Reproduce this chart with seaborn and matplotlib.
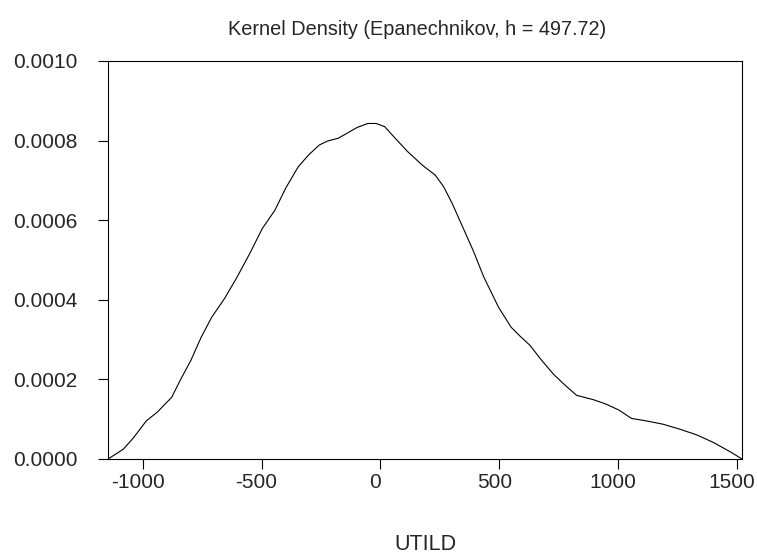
import matplotlib
matplotlib.use("Agg")
import matplotlib.pyplot as plt
import matplotlib.transforms as mtransforms
import seaborn as sns
import pandas as pd

# density curve
utild = [-1146, -1082, -1038, -985, -940, -878, -843, -798, -754, -710,
         -656, -603, -550, -497, -444, -399, -346, -302, -257, -222,
         -177, -142, -98, -53, -18, 18, 62, 115, 177, 231,
         266, 302, 346, 390, 435, 497, 550, 585, 630, 674,
         728, 772, 825, 896, 949, 1003, 1056, 1118, 1189, 1260,
         1331, 1402, 1473, 1521]
density = [0.0, 0.0000244, 0.0000538, 0.0000958, 0.000117, 0.000155, 0.000197, 0.000247, 0.000306, 0.000356,
           0.000403, 0.000457, 0.000516, 0.000579, 0.000625, 0.000680, 0.000734, 0.000764, 0.000789, 0.000799,
           0.000806, 0.000818, 0.000833, 0.000843, 0.000843, 0.000835, 0.000806, 0.000772, 0.000738, 0.000713,
           0.000684, 0.000642, 0.000583, 0.000524, 0.000457, 0.000381, 0.000331, 0.000310, 0.000285, 0.000251,
           0.000213, 0.000188, 0.000160, 0.000149, 0.000138, 0.000123, 0.000102, 0.0000958, 0.0000874, 0.0000748,
           0.0000605, 0.0000412, 0.0000176, 0.0]
x_ticks = [-1000, -500, 0, 500, 1000, 1500]
y_ticks = [0.0, 0.0002, 0.0004, 0.0006, 0.0008, 0.0010]

d = pd.DataFrame({"UTILD": utild, "Density": density})

sns.set_style("white")
plt.rcParams['font.family'] = ['Liberation Sans', 'DejaVu Sans']
plt.rcParams['axes.unicode_minus'] = False

fig = plt.figure(figsize=(7.57, 5.56), dpi=100)
ax = fig.add_axes([108 / 757, 1 - 459 / 556, 634 / 757, 398 / 556])
sns.lineplot(x="UTILD", y="Density", data=d, ax=ax, color="black", linewidth=0.8, sort=False)

ax.set_xlim(-1146, 1521)
ax.set_ylim(0, 0.001)
ax.set_xticks(x_ticks)
ax.set_xticklabels([str(v) for v in x_ticks])
ax.set_yticks(y_ticks)
ax.set_yticklabels(["%.4f" % v for v in y_ticks])
ax.tick_params(direction="out", length=7, width=0.8, color="black", labelsize=15, pad=3, left=True, bottom=True)
ax.tick_params(axis="y", pad=15)
for s in ax.spines.values():
    s.set_color("black")
    s.set_linewidth(0.8)

# x tick labels sit a few pixels left of their ticks in the reference
shift = mtransforms.ScaledTranslation(-5 / 100, 0, fig.dpi_scale_trans)
for lab in ax.get_xticklabels():
    lab.set_transform(lab.get_transform() + shift)

ax.set_xlabel("UTILD", fontsize=15.5, labelpad=30)
ax.set_ylabel("")
ax.set_title("Kernel Density (Epanechnikov, h = 497.72)", fontsize=14.3, pad=19, x=0.487)

fig.savefig("out.png", dpi=100)
